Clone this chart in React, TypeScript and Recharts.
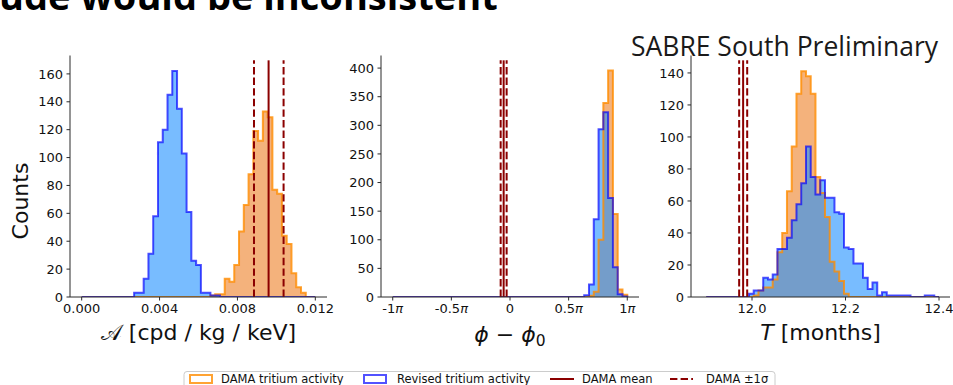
import React from "react";
import { ComposedChart, Area, Line, XAxis, YAxis, ReferenceLine } from "recharts";

const MPL_FONT = "'DejaVu Sans', 'Liberation Sans', sans-serif";
const SLIDE_FONT = "'Open Sans', 'Noto Sans', sans-serif";

const FIG_W = 953;
const FIG_H = 385;

// Legend entries
const SERIES_NAMES = ["DAMA tritium activity", "Revised tritium activity", "DAMA mean", "DAMA \u00b11\u03c3"];

// Amplitude A [cpd/kg/keV]: 49 equal bins on the range below
const AMP_BIN_RANGE = [0, 0.012];
const AMP_DAMA = [
  0, 0, 0, 0, 0, 0, 0, 0, 0, 0,
  0, 0, 0, 0, 0, 0, 0, 0, 0, 0,
  0, 0, 0, 0, 0, 0, 0, 1, 2, 2,
  13, 11, 23, 47, 66, 88, 119, 112, 133, 129,
  77, 74, 44, 38, 17, 7, 3, 0, 0,
];
const AMP_REVISED = [
  0, 0, 0, 0, 0, 0, 0, 0, 0, 0,
  0, 3, 3, 13, 31, 58, 111, 120, 145, 162,
  135, 103, 61, 26, 23, 3, 3, 1, 1, 0,
  0, 0, 0, 0, 0, 0, 0, 0, 0, 0,
  0, 0, 0, 0, 0, 0, 0, 0, 0,
];
const AMP_DAMA_REF = { mean: 0.0096, lo: 0.00885, hi: 0.01037 };
const AMP_X_TICKS = [0, 0.004, 0.008, 0.012];
const AMP_Y_TICKS = [0, 20, 40, 60, 80, 100, 120, 140, 160];

// Phase offset phi - phi0 [rad]: 49 equal bins on [-pi, pi]
const PHASE_BIN_RANGE = [-Math.PI, Math.PI];
const PHASE_DAMA = [
  0, 0, 0, 0, 0, 0, 0, 0, 0, 0,
  0, 0, 0, 0, 0, 0, 0, 0, 0, 0,
  0, 0, 0, 0, 0, 0, 0, 0, 0, 0,
  0, 0, 0, 0, 0, 0, 0, 0, 0, 0,
  0, 2, 9, 100, 339, 396, 145, 13, 4,
];
const PHASE_REVISED = [
  0, 0, 0, 0, 0, 0, 0, 0, 0, 0,
  0, 0, 0, 0, 0, 0, 0, 0, 0, 0,
  0, 0, 0, 0, 0, 0, 0, 0, 0, 0,
  0, 0, 0, 0, 0, 0, 0, 0, 0, 0,
  3, 22, 136, 293, 323, 173, 52, 5, 1,
];
const PHASE_DAMA_REF = { mean: -0.17, lo: -0.25, hi: -0.09 };
const PHASE_X_TICKS_PI = [-1, -0.5, 0, 0.5, 1];
const PHASE_Y_TICKS = [0, 50, 100, 150, 200, 250, 300, 350, 400];

// Period T [months]: 49 equal bins on the range below
const PERIOD_BIN_RANGE = [11.902, 12.4];
const PERIOD_DAMA = [
  0, 0, 0, 0, 0, 0, 0, 0, 0, 0,
  1, 4, 6, 6, 11, 28, 40, 66, 94, 127,
  141, 138, 127, 75, 65, 50, 22, 16, 10, 2,
  0, 0, 0, 0, 0, 0, 0, 0, 0, 0,
  0, 0, 0, 0, 0, 0, 0, 0, 0,
];
const PERIOD_REVISED = [
  0, 0, 0, 0, 0, 0, 0, 0, 0, 2,
  4, 4, 12, 11, 14, 30, 30, 37, 48, 58,
  71, 94, 75, 64, 73, 62, 62, 53, 52, 31,
  30, 21, 21, 12, 5, 9, 1, 3, 1, 1,
  1, 1, 1, 0, 0, 0, 1, 1, 0,
];
const PERIOD_DAMA_REF = { mean: 11.981, lo: 11.9725, hi: 11.9897 };
const PERIOD_X_TICKS = [12.0, 12.2, 12.4];
const PERIOD_Y_TICKS = [0, 20, 40, 60, 80, 100, 120, 140];

// Styling
const ORANGE_FILL = "#f4b27c";
const ORANGE_EDGE = "#ff8c00";
const BLUE_FILL = "#1e90ff";
const BLUE_EDGE = "#0000ff";
const DAMA_RED = "#8b0000";
const SPINE = "#2a2a2a";
const TEXT = "#111111";
const DASH = "7.4 3.2";
const TICK_FONT = 13;

// Layout of the three axes boxes
const PLOT_TOP = 55.5;
const PLOT_BOTTOM = 297;
const Y_AXIS_W = 70;
const X_AXIS_H = 40;
const RIGHT_PAD = 20;
const VLINE_FRAC = 0.98;

type Row = { x: number; dama: number; revised: number };

function histogramRows(range: number[], dama: number[], revised: number[]): Row[] {
  const n = dama.length;
  const w = (range[1] - range[0]) / n;
  const rows: Row[] = [];
  for (let k = 0; k <= n; k++) {
    rows.push({
      x: range[0] + k * w,
      dama: k < n ? dama[k] : 0,
      revised: k < n ? revised[k] : 0,
    });
  }
  return rows;
}

function PhaseTick(props: any) {
  const { x, y, payload } = props;
  const m = payload.value / Math.PI;
  const r = Math.round(m * 10) / 10;
  const num = r === 0 ? "0" : String(r);
  return (
    <text x={x} y={y} dy="0.71em" textAnchor="middle" fill={TEXT} fontSize={TICK_FONT} fontFamily={MPL_FONT}>
      {num}
      {num !== "0" && <tspan fontStyle="italic">{"\u03c0"}</tspan>}
    </text>
  );
}

type PanelProps = {
  plotLeft: number;
  plotRight: number;
  rows: Row[];
  xDomain: number[];
  xTicks: number[];
  xFormat?: (v: number) => string;
  xTick?: any;
  yTop: number;
  yTicks: number[];
  ref3: { mean: number; lo: number; hi: number };
};

function HistPanel(p: PanelProps) {
  const chartLeft = p.plotLeft - Y_AXIS_W;
  const width = p.plotRight - chartLeft + RIGHT_PAD;
  const height = PLOT_BOTTOM + X_AXIS_H;
  const tickStyle = { fill: TEXT, fontSize: TICK_FONT, fontFamily: MPL_FONT };
  const lineTop = p.yTop * VLINE_FRAC;
  const vline = (x: number, dashed: boolean, key: string) => (
    <ReferenceLine
      key={key}
      segment={[{ x, y: 0 }, { x, y: lineTop }]}
      stroke={DAMA_RED}
      strokeWidth={2}
      strokeDasharray={dashed ? DASH : undefined}
    />
  );
  return (
    <div style={{ position: "absolute", left: chartLeft, top: 0 }}>
      <ComposedChart
        width={width}
        height={height}
        data={p.rows}
        margin={{ top: PLOT_TOP, right: RIGHT_PAD, bottom: 0, left: 0 }}
      >
        <XAxis
          dataKey="x"
          type="number"
          domain={p.xDomain}
          allowDataOverflow
          ticks={p.xTicks}
          interval={0}
          tickFormatter={p.xFormat}
          tick={p.xTick ? p.xTick : tickStyle}
          tickSize={3.5}
          tickMargin={3}
          height={X_AXIS_H}
          stroke={SPINE}
        />
        <YAxis
          type="number"
          domain={[0, p.yTop]}
          allowDataOverflow
          ticks={p.yTicks}
          interval={0}
          tick={tickStyle}
          tickSize={3.5}
          tickMargin={3.5}
          width={Y_AXIS_W}
          stroke={SPINE}
        />
        <XAxis
          xAxisId="top"
          orientation="top"
          type="number"
          domain={p.xDomain}
          allowDataOverflow
          height={0}
          tick={false}
          tickLine={false}
          stroke={SPINE}
        />
        <YAxis
          yAxisId="right"
          orientation="right"
          type="number"
          domain={[0, p.yTop]}
          allowDataOverflow
          width={0}
          tick={false}
          tickLine={false}
          stroke={SPINE}
        />
        <Area
          dataKey="dama"
          type="stepAfter"
          fill={ORANGE_FILL}
          fillOpacity={1}
          stroke="none"
          isAnimationActive={false}
        />
        <Area
          dataKey="revised"
          type="stepAfter"
          fill={BLUE_FILL}
          fillOpacity={0.6}
          stroke="none"
          isAnimationActive={false}
        />
        <Line
          dataKey="dama"
          type="stepAfter"
          stroke={ORANGE_EDGE}
          strokeOpacity={0.8}
          strokeWidth={2}
          dot={false}
          activeDot={false}
          isAnimationActive={false}
        />
        <Line
          dataKey="revised"
          type="stepAfter"
          stroke={BLUE_EDGE}
          strokeOpacity={0.68}
          strokeWidth={2}
          dot={false}
          activeDot={false}
          isAnimationActive={false}
        />
        {vline(p.ref3.lo, true, "lo")}
        {vline(p.ref3.hi, true, "hi")}
        {vline(p.ref3.mean, false, "mean")}
      </ComposedChart>
    </div>
  );
}

const P1 = { plotLeft: 70, plotRight: 327 };
const P2 = { plotLeft: 381, plotRight: 639 };
const P3 = { plotLeft: 691, plotRight: 950 };
const LABEL_BASE = 340;

function Overlay() {
  const cx = (p: { plotLeft: number; plotRight: number }) => (p.plotLeft + p.plotRight) / 2;
  const legY = 371.5;
  const textY = 383;
  const lt = { fontSize: 11.5, fontFamily: MPL_FONT, fill: TEXT };
  return (
    <svg
      width={FIG_W}
      height={FIG_H}
      style={{ position: "absolute", left: 0, top: 0, pointerEvents: "none" }}
    >
      <text x={-1} y={10} fontFamily={SLIDE_FONT} fontWeight={700} fontSize={38} fill="#000">
        ude would be inconsistent
      </text>
      <text x={631} y={56} fontFamily={SLIDE_FONT} fontSize={26.5} fill="#1a1a1a">
        SABRE South Preliminary
      </text>
      <text
        x={20}
        y={201}
        transform="rotate(-90 20 201)"
        textAnchor="middle"
        dominantBaseline="central"
        fontFamily={MPL_FONT}
        fontSize={22}
        fill={TEXT}
      >
        Counts
      </text>
      <text x={cx(P1)} y={LABEL_BASE} textAnchor="middle" fontFamily={MPL_FONT} fontSize={22} fill={TEXT}>
        <tspan>{"\ud835\udc9c"}</tspan>
        <tspan> [cpd / kg / keV]</tspan>
      </text>
      <text x={cx(P2)} y={LABEL_BASE + 2} textAnchor="middle" fontFamily={MPL_FONT} fontSize={22} fill={TEXT}>
        <tspan fontStyle="italic">{"\u03d5"}</tspan>
        <tspan>{" \u2212 "}</tspan>
        <tspan fontStyle="italic">{"\u03d5"}</tspan>
        <tspan fontSize={15.5} dy={3.5}>0</tspan>
      </text>
      <text x={cx(P3)} y={LABEL_BASE} textAnchor="middle" fontFamily={MPL_FONT} fontSize={22} fill={TEXT}>
        <tspan fontStyle="italic">T</tspan>
        <tspan> [months]</tspan>
      </text>

      <rect x={184} y={legY} width={591} height={24} rx={3} fill="#fff" fillOpacity={0.8} stroke="#cccccc" strokeWidth={1} />
      <rect x={190} y={legY + 3.5} width={22} height={8} fill="none" stroke={ORANGE_EDGE} strokeOpacity={0.8} strokeWidth={2} />
      <text x={221} y={textY} {...lt}>{SERIES_NAMES[0]}</text>
      <rect x={364} y={legY + 3.5} width={22} height={8} fill="none" stroke={BLUE_EDGE} strokeOpacity={0.68} strokeWidth={2} />
      <text x={397} y={textY} {...lt}>{SERIES_NAMES[1]}</text>
      <line x1={550} x2={574} y1={legY + 7.5} y2={legY + 7.5} stroke={DAMA_RED} strokeWidth={2} />
      <text x={582} y={textY} {...lt}>{SERIES_NAMES[2]}</text>
      <line x1={670} x2={693} y1={legY + 7.5} y2={legY + 7.5} stroke={DAMA_RED} strokeWidth={2} strokeDasharray={DASH} />
      <text x={706} y={textY} {...lt}>{SERIES_NAMES[3]}</text>
    </svg>
  );
}

export default function App() {
  const ampRows = histogramRows(AMP_BIN_RANGE, AMP_DAMA, AMP_REVISED);
  const phaseRows = histogramRows(PHASE_BIN_RANGE, PHASE_DAMA, PHASE_REVISED);
  const periodRows = histogramRows(PERIOD_BIN_RANGE, PERIOD_DAMA, PERIOD_REVISED);
  return (
    <div
      style={{
        position: "fixed",
        left: 0,
        top: 0,
        width: FIG_W,
        height: FIG_H,
        background: "#fff",
        overflow: "hidden",
      }}
    >
      <HistPanel
        {...P1}
        rows={ampRows}
        xDomain={[-0.0006, 0.0126]}
        xTicks={AMP_X_TICKS}
        xFormat={(v: number) => v.toFixed(3)}
        yTop={173.2}
        yTicks={AMP_Y_TICKS}
        ref3={AMP_DAMA_REF}
      />
      <HistPanel
        {...P2}
        rows={phaseRows}
        xDomain={[-1.1 * Math.PI, 1.1 * Math.PI]}
        xTicks={PHASE_X_TICKS_PI.map((m) => m * Math.PI)}
        xTick={(props: any) => <PhaseTick {...props} />}
        yTop={422}
        yTicks={PHASE_Y_TICKS}
        ref3={PHASE_DAMA_REF}
      />
      <HistPanel
        {...P3}
        rows={periodRows}
        xDomain={[11.8695, 12.4235]}
        xTicks={PERIOD_X_TICKS}
        xFormat={(v: number) => v.toFixed(1)}
        yTop={150.9}
        yTicks={PERIOD_Y_TICKS}
        ref3={PERIOD_DAMA_REF}
      />
      <Overlay />
    </div>
  );
}
